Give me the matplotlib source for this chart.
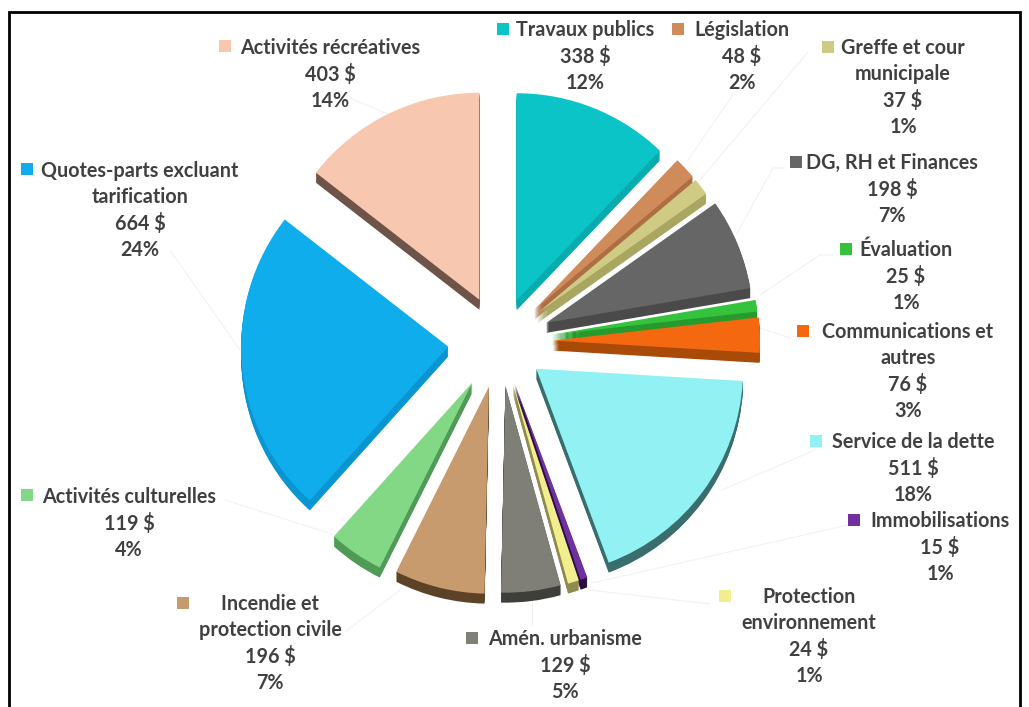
import matplotlib
matplotlib.use('Agg')
from matplotlib import pyplot as plt
from matplotlib.patches import Rectangle

W, H = 1029, 707

names = ['Travaux publics', 'Législation', 'Greffe et cour\nmunicipale', 'DG, RH et Finances',
         'Évaluation', 'Communications et\nautres', 'Service de la dette', 'Immobilisations',
         'Protection\nenvironnement', 'Amén. urbanisme', 'Incendie et\nprotection civile',
         'Activités culturelles', 'Quotes-parts excluant\ntarification', 'Activités récréatives']
values = [338, 48, 37, 198, 25, 76, 511, 15, 24, 129, 196, 119, 664, 403]
percents = [12, 2, 1, 7, 1, 3, 18, 1, 1, 5, 7, 4, 24, 14]

colors = ['#0BC4C7', '#D08B5B', '#CFCB85', '#666666', '#35C23C', '#F4690F', '#92F1F3',
          '#7030A0', '#F2EE8E', '#7F7F78', '#C89B6E', '#82D884', '#0FADEC', '#F8C7AF']
dark = ['#09ACAE', '#AD6E43', '#A9A662', '#4A4A4A', '#269A2C', '#A94A08', '#3A6E6E',
        '#2A0F45', '#8F8B50', '#3F3F3A', '#5C4227', '#4F9A55', '#0A95D0', '#6E5348']
explode = [45, 47, 47, 50, 52, 53, 45, 44, 44, 44, 46, 49, 52, 47]

# centre of the text block, then where the colour square goes
label_xy = [(585, 29), (742, 29), (903, 47), (892, 162), (906, 249), (908, 331),
            (913, 441), (940, 520), (809, 596), (565, 638), (270, 603), (129, 496),
            (140, 170), (330, 47)]
square_xy = [(503, 29), (678, 29), (828, 47), (796, 162), (846, 249), (803, 331),
             (816, 441), (854, 520), (725, 596), (472, 638), (183, 603), (27, 495),
             (27, 169), (225, 46)]
leaders = [[(592, 95), (592, 82)], [(688, 160), (732, 96)], [(700, 180), (808, 52)],
           [(737, 233), (773, 168), (785, 168)], [(760, 295), (820, 255), (833, 255)],
           [(760, 328), (790, 338)], [(722, 490), (815, 450)], [(592, 583), (848, 525)],
           [(590, 590), (710, 604)], [(532, 600), (532, 625)], [(400, 590), (345, 632)],
           [(335, 535), (225, 500)], [(240, 350), (170, 250)], [(390, 115), (350, 98)]]

plt.rcParams['font.family'] = ['Lato', 'DejaVu Sans']

fig = plt.figure(figsize=(W / 100, H / 100), dpi=100)
ax = fig.add_axes([0, 0, 1, 1])
cx, cy, radius = 500, H - 342, 207
depth = 10

# extrude the slices downward with darker copies of the pie
for d in range(depth, 0, -1):
    ax.pie(values, explode=explode, colors=dark, radius=radius, startangle=90,
           counterclock=False, center=(cx, cy - d))
ax.pie(values, explode=explode, colors=colors, radius=radius, startangle=90,
       counterclock=False, center=(cx, cy))

ax.set_xlim(0, W)
ax.set_ylim(0, H)
ax.set_aspect('auto')
ax.axis('off')

for pts in leaders:
    ax.plot([p[0] for p in pts], [H - p[1] for p in pts], color='#F2F2F2', lw=0.8, zorder=0.5)

for i, name in enumerate(names):
    x, y = label_xy[i]
    block = name + '\n' + str(values[i]) + ' $\n' + str(percents[i]) + '%'
    ax.text(x, H - y + 9, block, ha='center', va='top', fontsize=14.2, fontweight='bold',
            color='#404040', linespacing=1.37, zorder=5)
    sx, sy = square_xy[i]
    ax.add_patch(Rectangle((sx - 6, H - sy - 6), 12, 12, color=colors[i], lw=0, zorder=5))

# black frame, open at the bottom
ax.plot([9, 9, 1020, 1020], [0, H - 12, H - 12, 0], color='black', lw=2, zorder=6,
        solid_joinstyle='miter')

fig.savefig('out.png', dpi=100)
